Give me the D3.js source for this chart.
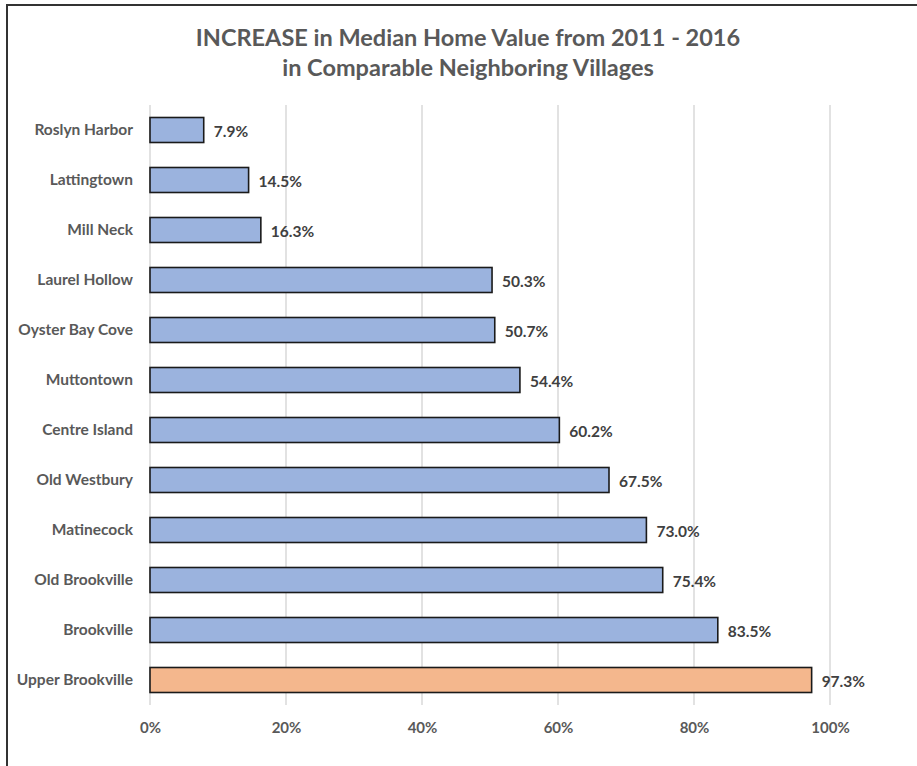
<!DOCTYPE html>
<html>
<head>
<meta charset="utf-8">
<script src="https://cdn.jsdelivr.net/npm/d3@7"></script>
<style>
  body { margin: 0; background: #fff; }
  svg { display: block; font-family: Lato, "Open Sans", sans-serif; }
</style>
</head>
<body>
<svg width="917" height="766"></svg>
<script>
var villages = ["Roslyn Harbor", "Lattingtown", "Mill Neck", "Laurel Hollow", "Oyster Bay Cove",
                "Muttontown", "Centre Island", "Old Westbury", "Matinecock", "Old Brookville",
                "Brookville", "Upper Brookville"];
var increase = [7.9, 14.5, 16.3, 50.3, 50.7, 54.4, 60.2, 67.5, 73.0, 75.4, 83.5, 97.3];
var highlight = "Upper Brookville";
var xTicks = [0, 20, 40, 60, 80, 100];
var titleLines = ["INCREASE in Median Home Value from 2011 - 2016", "in Comparable Neighboring Villages"];

var margin = {top: 105, left: 150},
    width = 680,
    height = 600;

var svg = d3.select("svg");

// frame (only left and top edges show in the picture)
svg.append("rect")
    .attr("x", 7).attr("y", 5)
    .attr("width", 940).attr("height", 800)
    .attr("fill", "none")
    .attr("stroke", "#333")
    .attr("stroke-width", 2);

svg.selectAll(".title")
    .data(titleLines)
  .enter().append("text")
    .attr("class", "title")
    .attr("x", 468)
    .attr("y", function(d, i) { return 46 + i * 30; })
    .attr("text-anchor", "middle")
    .style("font-size", "23.5px")
    .style("font-weight", "bold")
    .style("fill", "#595959")
    .text(function(d) { return d; });

var g = svg.append("g")
    .attr("transform", "translate(" + margin.left + "," + margin.top + ")");

var xScale = d3.scaleLinear().domain([0, 100]).range([0, width]);
var yScale = d3.scaleBand().domain(villages).range([0, height]).paddingInner(0.5).paddingOuter(0.25);

// gridlines
g.selectAll(".grid")
    .data(xTicks)
  .enter().append("line")
    .attr("class", "grid")
    .attr("x1", function(d) { return xScale(d); })
    .attr("x2", function(d) { return xScale(d); })
    .attr("y1", 0)
    .attr("y2", height)
    .attr("stroke", "#d9d9d9")
    .attr("stroke-width", 1.5);

// x axis labels
var xAxis = g.append("g")
    .attr("transform", "translate(0," + height + ")")
    .call(d3.axisBottom(xScale).tickValues(xTicks).tickSize(0).tickPadding(17)
      .tickFormat(function(d) { return d + "%"; }));
xAxis.select(".domain").remove();
xAxis.selectAll("text")
    .style("font-family", "Lato, sans-serif")
    .style("font-size", "15px")
    .style("font-weight", "bold")
    .style("fill", "#595959");

// y axis labels
var yAxis = g.append("g")
    .call(d3.axisLeft(yScale).tickSize(0).tickPadding(17));
yAxis.select(".domain").remove();
yAxis.selectAll("text")
    .style("font-family", "Lato, sans-serif")
    .style("font-size", "15.5px")
    .style("font-weight", "bold")
    .style("fill", "#595959");

var rows = villages.map(function(name, i) { return {name: name, value: increase[i]}; });

g.selectAll(".bar")
    .data(rows)
  .enter().append("rect")
    .attr("class", "bar")
    .attr("x", xScale(0))
    .attr("y", function(d) { return yScale(d.name); })
    .attr("width", function(d) { return xScale(d.value) - xScale(0); })
    .attr("height", yScale.bandwidth())
    .attr("fill", function(d) { return d.name == highlight ? "#f4b78d" : "#9bb3de"; })
    .attr("stroke", "#1a1a1a")
    .attr("stroke-width", 1.6);

g.selectAll(".val")
    .data(rows)
  .enter().append("text")
    .attr("class", "val")
    .attr("x", function(d) { return xScale(d.value) + 10; })
    .attr("y", function(d) { return yScale(d.name) + yScale.bandwidth() / 2 + 2; })
    .attr("dy", "0.35em")
    .style("font-size", "15.5px")
    .style("font-weight", "bold")
    .style("fill", "#404040")
    .text(function(d) { return d.value.toFixed(1) + "%"; });
</script>
</body>
</html>
